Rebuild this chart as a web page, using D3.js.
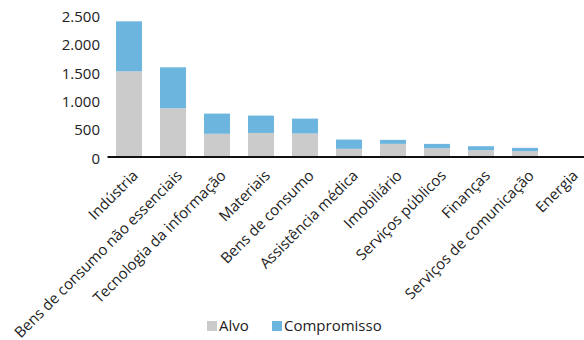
<!DOCTYPE html>
<html lang="pt">
<head>
<meta charset="UTF-8">
<title>Alvo e Compromisso por setor</title>
<script src="https://cdn.jsdelivr.net/npm/d3@7"></script>
<style>
	html,body{margin:0;padding:0;background:#fff;}
	svg{display:block;font-family:"Open Sans",sans-serif;}
</style>
</head>
<body>
<div id="chart"></div>
<script>
	var sectors = ["Indústria","Bens de consumo não essenciais","Tecnologia da informação","Materiais","Bens de consumo","Assistência médica","Imobiliário","Serviços públicos","Finanças","Serviços de comunicação","Energia"];
	var alvo = [1500, 850, 400, 415, 405, 135, 222, 146, 111, 94, 0];
	var compromisso = [880, 720, 355, 305, 262, 163, 71, 76, 70, 58, 0];
	var yTicks = [0, 500, 1000, 1500, 2000, 2500];
	var seriesNames = ["Alvo","Compromisso"];
	var colors = ["#cbcbcb","#6cb5de"];

	var w = 584, h = 340;
	var svg = d3.select("#chart").append("svg").attr("width", w).attr("height", h);

	var x = d3.scaleBand().domain(sectors).range([107, 591]).paddingInner(0.41).paddingOuter(0.205);
	var y = d3.scaleLinear().domain([0, 2500]).range([156.5, 14.5]);

	var rows = sectors.map(function(s, i){
		return {sector: s, Alvo: alvo[i], Compromisso: compromisso[i]};
	});
	var stack = d3.stack().keys(seriesNames)(rows);

	svg.selectAll("g.series").data(stack).enter().append("g")
		.attr("fill", function(d, i){ return colors[i]; })
		.selectAll("rect").data(function(d){ return d; }).enter().append("rect")
		.attr("x", function(d){ return x(d.data.sector); })
		.attr("width", x.bandwidth())
		.attr("y", function(d){ return y(d[1]); })
		.attr("height", function(d){ return y(d[0]) - y(d[1]); });

	// y axis labels only
	var yAxis = svg.append("g").attr("transform", "translate(100,2)")
		.call(d3.axisLeft(y).tickValues(yTicks).tickSize(0).tickPadding(0)
			.tickFormat(function(d){ return d3.format(",")(d).replace(/,/g, "."); }));
	yAxis.select(".domain").remove();
	yAxis.selectAll("text").attr("font-size", 15).attr("fill", "#222").attr("font-family", "Open Sans");

	// x axis
	var xAxis = svg.append("g").attr("transform", "translate(0," + y(0) + ")")
		.call(d3.axisBottom(x).tickSize(0).tickPadding(0));
	xAxis.select(".domain").attr("stroke", "#111").attr("stroke-width", 2);
	xAxis.selectAll("text")
		.attr("font-size", 15).attr("fill", "#222").attr("font-family", "Open Sans")
		.attr("text-anchor", "end")
		.attr("dy", 0)
		.attr("transform", "translate(10,20) rotate(-45)");

	// legend
	var legend = svg.append("g").attr("transform", "translate(207,326)");
	var lx = [0, 65];
	seriesNames.forEach(function(name, i){
		var g = legend.append("g").attr("transform", "translate(" + lx[i] + ",0)");
		g.append("rect").attr("x", 0).attr("y", -5).attr("width", 10).attr("height", 10).attr("fill", colors[i]);
		g.append("text").attr("x", 12).attr("y", 0).attr("dy", "0.35em")
			.attr("font-size", 15).attr("fill", "#222").text(name);
	});
</script>
</body>
</html>
